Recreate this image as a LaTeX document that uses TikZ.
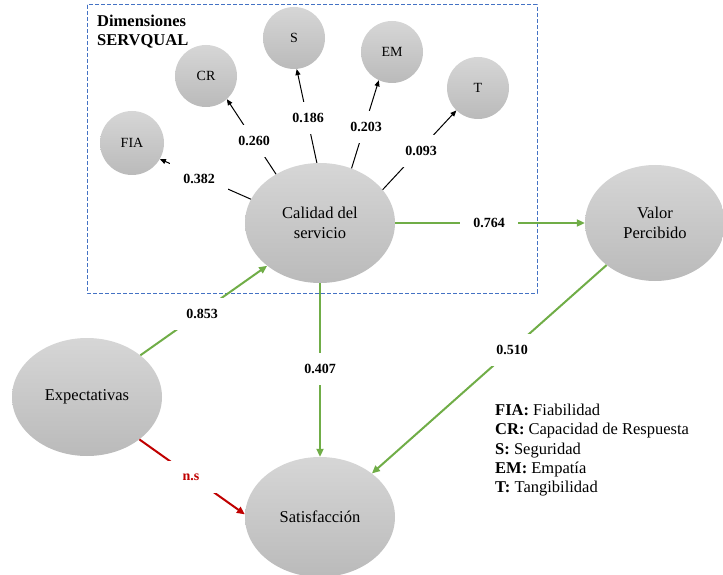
\documentclass[tikz,border=0pt]{standalone}
\usepackage{fontspec}
\setmainfont{Liberation Serif}
\usepackage{xcolor}
\usepackage{tikz}
\usetikzlibrary{shapes.geometric, arrows.meta}
\definecolor{pathGreen}{HTML}{70AD47}
\definecolor{pathRed}{HTML}{C00000}
\definecolor{boxBlue}{HTML}{4472C4}

\begin{document}
\begin{tikzpicture}[
    x=1pt, y=-1pt,
    construct/.style={ellipse, top color=black!16, bottom color=black!27,
                      minimum width=150pt, minimum height=120pt, inner sep=0pt,
                      font=\fontsize{16.5}{20}\selectfont, align=center},
    dimension/.style={circle, top color=black!16, bottom color=black!27,
                      minimum size=62pt, inner sep=0pt,
                      font=\fontsize{14}{16}\selectfont},
    coef/.style={fill=white, minimum width=58pt, minimum height=32pt,
                 inner sep=0pt, font=\fontsize{14}{16}\selectfont\bfseries},
    loading/.style={-{Triangle[length=6pt, width=5pt]}, line width=1pt},
    effect/.style={-{Triangle[length=8pt, width=7pt]}, line width=2pt,
                   draw=pathGreen, fill=pathGreen},
    nseffect/.style={effect, draw=pathRed, fill=pathRed},
    groupbox/.style={draw=boxBlue, line width=1pt, dash pattern=on 4pt off 2pt},
]
\useasboundingbox (0,0) rectangle (723,575);

% SERVQUAL group
\draw[groupbox] (87,5) rectangle (537,293);
\node[anchor=north west, inner sep=0pt, align=left,
      font=\fontsize{16.5}{19}\selectfont\bfseries] (title) at (97,15)
    {Dimensiones\\SERVQUAL};

% Dimensions
\node[dimension, minimum size=64pt] (fia) at (132,143) {FIA};
\node[dimension] (cr) at (206,76) {CR};
\node[dimension] (seg) at (294,38) {S};
\node[dimension] (emp) at (392,52) {EM};
\node[dimension] (tan) at (478,88) {T};

% Constructs
\node[construct] (calidad) at (320,223) {Calidad del\\servicio};
\node[construct, minimum width=140pt, minimum height=116pt] (valor) at (655,223) {Valor\\Percibido};
\node[construct, minimum height=118pt] (expect) at (87,397) {Expectativas};
\node[construct] (satisf) at (320,517) {Satisfacción};

% Arrows
\draw[loading] (calidad.161) -- (fia.-30);
\draw[loading] (calidad.132) -- (cr.-48);
\draw[loading] (calidad.93) -- (seg.-85);
\draw[loading] (calidad.60) -- (emp.-115);
\draw[loading] (calidad.28) -- (tan.-134);
\draw[effect] (calidad.east) -- (valor.west);
\draw[effect] (expect.38) -- (calidad.-141);
\draw[effect] (calidad.south) -- (satisf.north);
\draw[effect] (valor.221) -- (satisf.40);
\draw[nseffect] (expect.-39) -- (satisf.178);

% Coefficients
\node[coef] (c382) at (199,179) {0.382};
\node[coef] (c260) at (254,141) {0.260};
\node[coef] (c186) at (308,118) {0.186};
\node[coef] (c203) at (366,127) {0.203};
\node[coef] (c093) at (421,151) {0.093};
\node[coef] (c764) at (489,223) {0.764};
\node[coef] (c853) at (202,314) {0.853};
\node[coef] (c407) at (320,369) {0.407};
\node[coef] (c510) at (512,350) {0.510};
\node[coef, text=pathRed] (cns) at (191,477) {n.s};

% Legend
\node[anchor=north west, inner sep=0pt, align=left,
      font=\fontsize{16.5}{19.3}\selectfont] (legend) at (495,404)
    {\textbf{FIA:} Fiabilidad\\
     \textbf{CR:} Capacidad de Respuesta\\
     \textbf{S:} Seguridad\\
     \textbf{EM:} Empatía\\
     \textbf{T:} Tangibilidad};
\end{tikzpicture}
\end{document}
